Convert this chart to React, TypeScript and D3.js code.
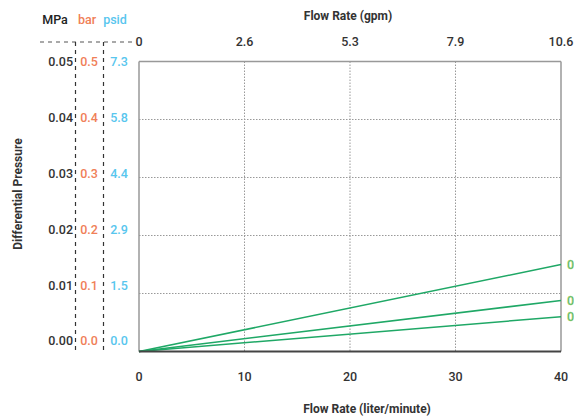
import React from "react";
import * as d3 from "d3";

const flowLpm: number[] = [0, 10, 20, 30, 40];
const flowGpm: string[] = ["0", "2.6", "5.3", "7.9", "10.6"];
const mpaTicks: string[] = ["0.00", "0.01", "0.02", "0.03", "0.04", "0.05"];
const barTicks: string[] = ["0.0", "0.1", "0.2", "0.3", "0.4", "0.5"];
const psidTicks: string[] = ["0.0", "1.5", "2.9", "4.4", "5.8", "7.3"];
const series1: [number, number][] = [[0, 0], [40, 0.015]];
const series2: [number, number][] = [[0, 0], [40, 0.0088]];
const series3: [number, number][] = [[0, 0], [40, 0.006]];
const endLabels: string[] = ["0", "0", "0"];

const FONT = "Roboto, 'Noto Sans', sans-serif";

export default function App() {
  const W = 574, H = 416;
  const x = d3.scaleLinear().domain([0, 40]).range([139, 561]);
  const y = d3.scaleLinear().domain([0, 0.05]).range([351.5, 61.5]);
  const yLab = d3.scaleLinear().domain([0, 0.05]).range([341, 62]);
  const line = d3.line<[number, number]>().x(d => x(d[0])).y(d => y(d[1]));
  const series = [series1, series2, series3];
  const green = "#1fa866";
  const orange = "#f08058";
  const blue = "#58c6ee";
  return (
    <svg width={W} height={H} style={{ position: "absolute", left: 0, top: 0 }} fontFamily={FONT}>
      <rect width={W} height={H} fill="#fff" />
      {mpaTicks.slice(1, 5).map((_, i) => (
        <line key={"hg" + i} x1={x(0)} x2={x(40)} y1={y((i + 1) * 0.01)} y2={y((i + 1) * 0.01)}
          stroke="#999" strokeWidth={1} strokeDasharray="1.5,1.5" />
      ))}
      {flowLpm.slice(1, 4).map(v => (
        <line key={"vg" + v} x1={x(v)} x2={x(v)} y1={y(0.05)} y2={y(0)}
          stroke="#999" strokeWidth={1} strokeDasharray="1.5,1.5" />
      ))}
      <line x1={x(0)} x2={x(40)} y1={y(0.05)} y2={y(0.05)} stroke="#999" strokeWidth={1.5} />
      <line x1={x(0)} x2={x(0)} y1={y(0.05)} y2={y(0)} stroke="#999" strokeWidth={1.5} />
      <line x1={x(40)} x2={x(40)} y1={y(0.05)} y2={y(0)} stroke="#999" strokeWidth={1.5} />
      {series.map((s, i) => (
        <path key={"s" + i} d={line(s) || ""} fill="none" stroke={green} strokeWidth={1.5} />
      ))}
      <line x1={x(0)} x2={x(40)} y1={y(0)} y2={y(0)} stroke="#444" strokeWidth={2} />
      {series.map((s, i) => (
        <text key={"el" + i} x={x(40) + 6} y={y(s[1][1])} dy="0.35em" fontSize={12.5} fontWeight={500}
          fill="#4cb87a" stroke="#c8d84a" strokeWidth={0.3}>{endLabels[i]}</text>
      ))}
      <line x1={40} x2={133} y1={42} y2={42} stroke="#555" strokeWidth={1.2} strokeDasharray="4,4" />
      <line x1={75.5} x2={75.5} y1={42} y2={352} stroke="#333" strokeWidth={1.2} strokeDasharray="4,4" />
      <line x1={103.5} x2={103.5} y1={42} y2={352} stroke="#333" strokeWidth={1.2} strokeDasharray="4,4" />
      <text x={55} y={24} fontSize={12.5} fontWeight={500} textAnchor="middle" fill="#222">MPa</text>
      <text x={87} y={24} fontSize={12.5} fontWeight={500} textAnchor="middle" fill={orange}>bar</text>
      <text x={115} y={24} fontSize={12.5} fontWeight={500} textAnchor="middle" fill={blue}>psid</text>
      {mpaTicks.map((t, i) => (
        <text key={"m" + t} x={73} y={yLab(i * 0.01)} dy="0.35em" fontSize={12.5} fontWeight={500} textAnchor="end" fill="#333">{t}</text>
      ))}
      {barTicks.map((t, i) => (
        <text key={"b" + t} x={89} y={yLab(i * 0.01)} dy="0.35em" fontSize={12.5} fontWeight={500} textAnchor="middle" fill={orange}>{t}</text>
      ))}
      {psidTicks.map((t, i) => (
        <text key={"p" + t} x={119} y={yLab(i * 0.01)} dy="0.35em" fontSize={12.5} fontWeight={500} textAnchor="middle" fill={blue}>{t}</text>
      ))}
      {flowGpm.map((t, i) => (
        <text key={"g" + t} x={x(flowLpm[i])} y={42} dy="0.35em" fontSize={12.5} fontWeight={500} textAnchor="middle" fill="#333">{t}</text>
      ))}
      <text x={348} y={20} fontSize={12} fontWeight="bold" textAnchor="middle" fill="#333">Flow Rate (gpm)</text>
      {flowLpm.map(v => (
        <text key={"l" + v} x={x(v)} y={377} dy="0.35em" fontSize={12.5} fontWeight={500} textAnchor="middle" fill="#333">{v}</text>
      ))}
      <text x={367} y={413} fontSize={12} fontWeight="bold" textAnchor="middle" fill="#333">Flow Rate (liter/minute)</text>
      <text transform="translate(22,194) rotate(-90)" fontSize={12} fontWeight="bold" textAnchor="middle" fill="#333">Differential Pressure</text>
    </svg>
  );
}
